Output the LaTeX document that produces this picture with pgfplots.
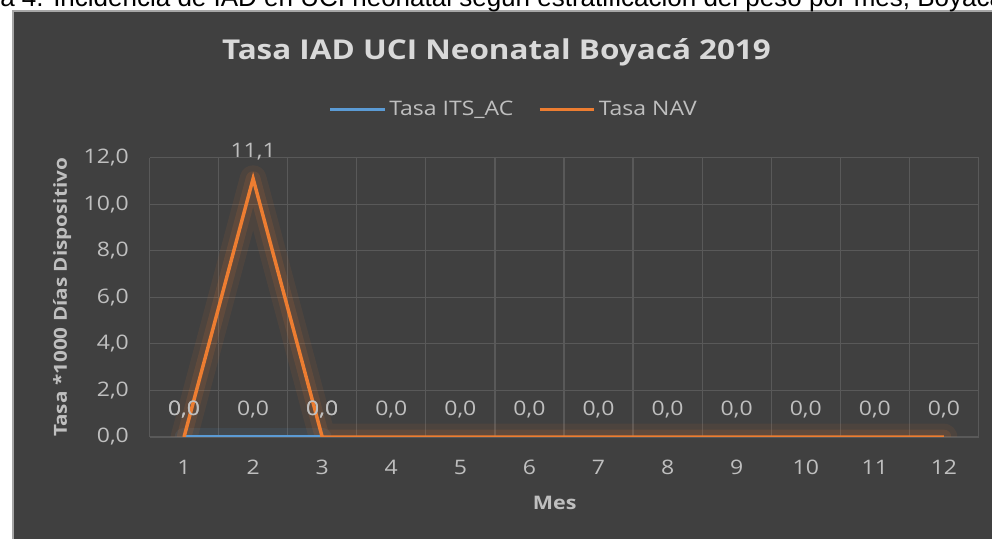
\documentclass[border=0pt]{standalone}
\usepackage{pgfplots}
\pgfplotsset{compat=1.18}
\usepackage{fontspec}
\setmainfont[FakeStretch=1.15]{Open Sans}
\newfontfamily\capfont{Liberation Sans}
\definecolor{bg}{HTML}{404040}
\definecolor{gridc}{HTML}{595959}
\definecolor{txt}{HTML}{BFBFBF}
\definecolor{ttl}{HTML}{D9D9D9}
\definecolor{orng}{HTML}{ED7D31}
\definecolor{blu}{HTML}{5B9BD5}
\begin{document}
\begin{tikzpicture}[x=0.75bp,y=0.75bp]
\clip (0,0) rectangle (992,539);
\fill[white] (0,0) rectangle (992,539);
\fill[bg] (12,0) rectangle (992,528);
\draw[color=black!35,line width=1.5bp] (12.5,0) -- (12.5,528) -- (992,528);
\node[anchor=base west,inner sep=0pt,font=\capfont\fontsize{19.5bp}{21bp}\selectfont] at (0,532.5) {\llap{Gráfic}a 4. Incidencia de IAD en UCI neonatal según estratificación del peso por mes, Boyacá 2019};
\node[font=\bfseries\fontsize{20.5bp}{24bp}\selectfont,text=ttl,anchor=center] at (496.5,487) {Tasa IAD UCI Neonatal Boyacá 2019};
\begin{axis}[
  at={(112.125bp,76.5bp)}, anchor=south west,
  scale only axis, width=621.75bp, height=209.5bp,
  xmin=0.5, xmax=12.5, ymin=0, ymax=12,
  axis line style={draw=none},
  xtick={1,...,12}, xticklabels={1,2,3,4,5,6,7,8,9,10,11,12},
  minor xtick={0.5,1.5,...,12.5},
  ytick={0,2,...,12},
  major tick length=0pt, minor tick length=0pt,
  xmajorgrids=false, xminorgrids=true, ymajorgrids=true,
  grid style={gridc, line width=0.9bp},
  minor grid style={gridc, line width=0.9bp},
  /pgf/number format/.cd, fixed, fixed zerofill, precision=1, use comma, assume math mode=true,
  /pgfplots/.cd,
  tick label style={text=txt, font=\fontsize{15bp}{17bp}\selectfont},
  yticklabel style={xshift=-12bp},
  xticklabel style={anchor=center, yshift=-23bp},
  xlabel={Mes}, ylabel={Tasa *1000 Días Dispositivo},
  every axis x label/.style={at={(rel axis cs:0.5,0)}, anchor=center, yshift=-49.5bp, xshift=-7bp,
     font=\bfseries\fontsize{14bp}{16bp}\selectfont, text=txt},
  every axis y label/.style={at={(rel axis cs:0,0.5)}, anchor=center, xshift=-65.6bp, rotate=90,
     font=\bfseries\fontsize{13.5bp}{16bp}\selectfont, text=txt},
  legend columns=2,
  legend style={at={(0.4397,1.172)}, anchor=center, draw=none, fill=none,
    text=txt, font=\fontsize{15bp}{17bp}\selectfont,
    /tikz/every even column/.append style={column sep=16.5bp}},
  legend image code/.code={\draw[#1] (0bp,0bp) -- (41bp,0bp);},
  every node near coord/.append style={anchor=base, yshift=16bp, inner sep=0pt, text=txt, font=\fontsize{15bp}{17bp}\selectfont},
]
% glows
\addplot[forget plot, blu, opacity=0.10, line width=14bp, line join=round, line cap=round] coordinates {(1,0) (2,0) (3,0)};
\addplot[forget plot, orng, opacity=0.08, line width=20bp, line join=round, line cap=round] coordinates {(1,0) (2,11.1) (3,0) (4,0) (5,0) (6,0) (7,0) (8,0) (9,0) (10,0) (11,0) (12,0)};
\addplot[forget plot, orng, opacity=0.12, line width=11bp, line join=round, line cap=round] coordinates {(1,0) (2,11.1) (3,0) (4,0) (5,0) (6,0) (7,0) (8,0) (9,0) (10,0) (11,0) (12,0)};
% series
\addplot[blu, line width=2.6bp, nodes near coords] coordinates {(1,0) (2,0) (3,0)};
\addlegendentry{Tasa ITS\_AC}
\addplot[orng, line width=2.6bp, nodes near coords] coordinates {(1,0) (2,11.1) (3,0) (4,0) (5,0) (6,0) (7,0) (8,0) (9,0) (10,0) (11,0) (12,0)};
\addlegendentry{Tasa NAV}
\end{axis}
\end{tikzpicture}
\end{document}
